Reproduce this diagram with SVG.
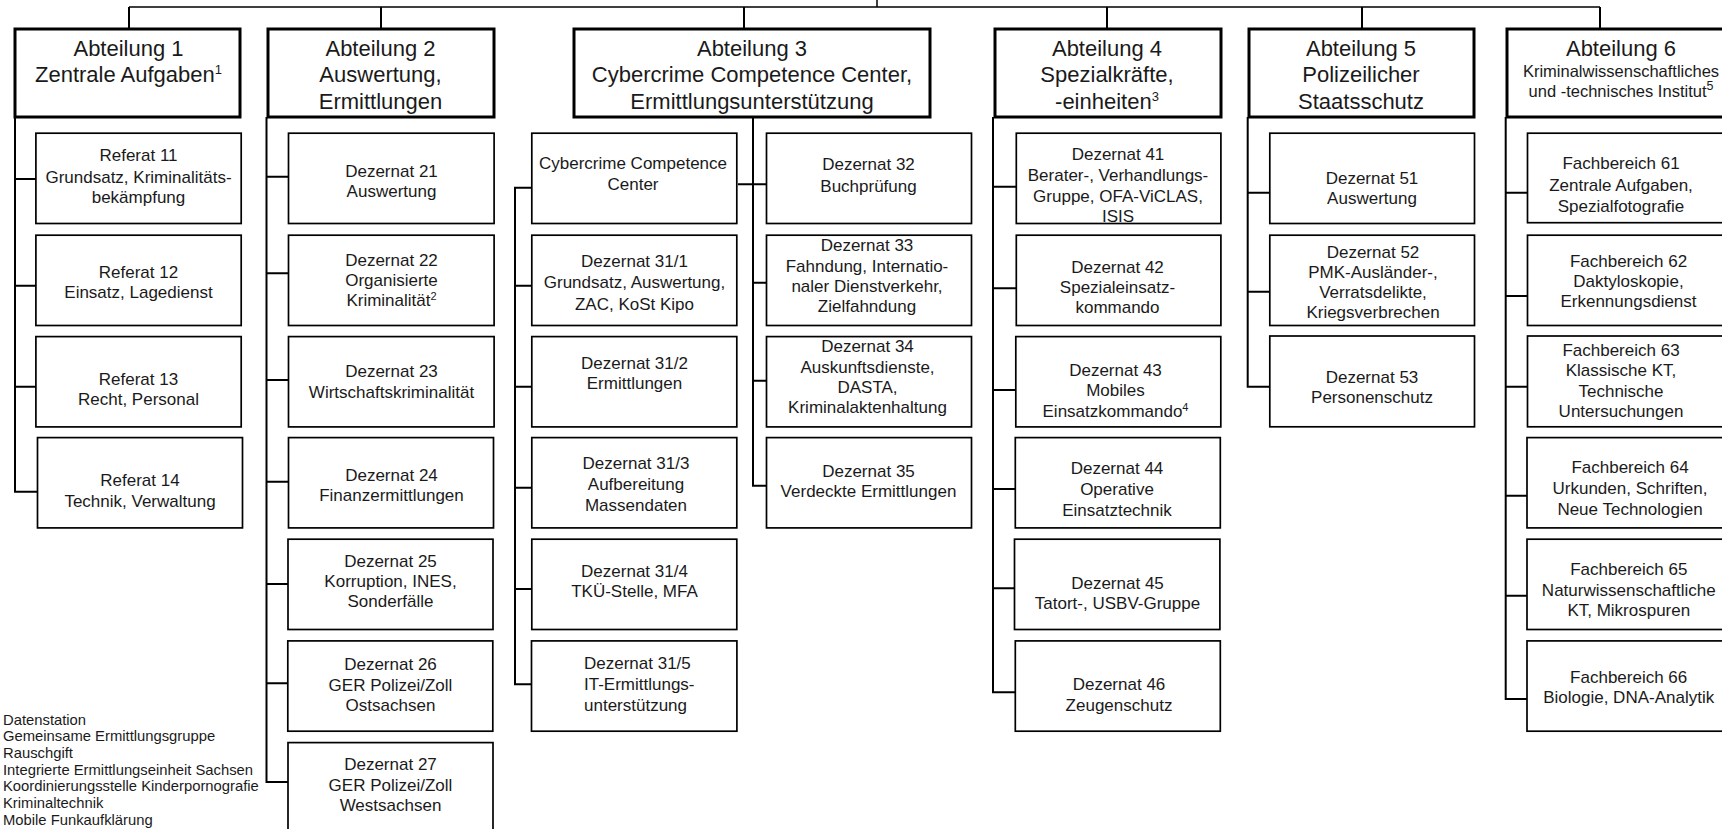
<svg xmlns="http://www.w3.org/2000/svg" width="1722" height="829" viewBox="0 0 1722 829">
<style>
.abt{fill:#fff;stroke:#000;stroke-width:3}
.box{fill:#fff;stroke:#000;stroke-width:1.7}
.t{font-family:"Liberation Sans",Arial,sans-serif;font-size:17px;fill:#1a1a1a;text-anchor:middle}
.h{font-size:22px}
.s{font-size:16.5px}
.fn{font-family:"Liberation Sans",Arial,sans-serif;font-size:14.8px;fill:#1a1a1a}
.c{fill:none;stroke:#000;stroke-width:2}
.bar{fill:none;stroke:#000;stroke-width:1.5}
</style>
<rect width="1722" height="829" fill="#fff"/>
<g id="connectors">
<path class="bar" d="M129 7H1600M877 0V7"/>
<path class="c" d="M129 7V28M381 7V28M744 7V28M1107 7V28M1362 7V28M1600 7V28"/>
<path class="c" d="M15 117V491.7H37.5M15 179H36M15 285.7H36M15 386.7H36"/>
<path class="c" d="M266.5 117V782H288.5M266.5 176.7H288.5M266.5 273.3H288.5M266.5 380H288.5M266.5 481.7H288.5M266.5 584H288.5M266.5 683.3H288.5"/>
<path class="c" d="M753 117V485.7H766.5M738 184.3H766.5M753 282.7H766.5M753 380.7H766.5"/>
<path class="c" d="M531.8 187.7H515V684.3H531.8M515 285.7H531.8M515 386.7H531.8M515 487.7H531.8M515 589H531.8"/>
<path class="c" d="M993 117V692.3H1016.3M993 186.7H1016.3M993 288.3H1016.3M993 390H1016.3M993 489H1016.3M993 588.3H1016.3"/>
<path class="c" d="M1247.7 117V386.7H1269.8M1247.7 192.7H1269.8M1247.7 291.7H1269.8"/>
<path class="c" d="M1505.7 117V699H1527.5M1505.7 192.7H1527.5M1505.7 296H1527.5M1505.7 386.7H1527.5M1505.7 495.7H1527.5M1505.7 595.7H1527.5"/>
</g>

<g id="abt1"><rect class="abt" x="15" y="29" width="225" height="88"/>
<text class="t h"><tspan x="128.5" y="55.5">Abteilung 1</tspan><tspan x="128.5" y="82">Zentrale Aufgaben<tspan font-size="13" dy="-8">1</tspan></tspan></text></g>
<g id="abt2"><rect class="abt" x="268" y="29" width="226" height="88"/>
<text class="t h"><tspan x="380.5" y="55.5">Abteilung 2</tspan><tspan x="380.5" y="82">Auswertung,</tspan><tspan x="380.5" y="108.5">Ermittlungen</tspan></text></g>
<g id="abt3"><rect class="abt" x="574" y="29" width="356" height="88"/>
<text class="t h"><tspan x="752" y="55.5">Abteilung 3</tspan><tspan x="752" y="82">Cybercrime Competence Center,</tspan><tspan x="752" y="108.5">Ermittlungsunterstützung</tspan></text></g>
<g id="abt4"><rect class="abt" x="995" y="29" width="226" height="88"/>
<text class="t h"><tspan x="1107" y="55.5">Abteilung 4</tspan><tspan x="1107" y="82">Spezialkräfte,</tspan><tspan x="1107" y="108.5">-einheiten<tspan font-size="13" dy="-8">3</tspan></tspan></text></g>
<g id="abt5"><rect class="abt" x="1249" y="29" width="225" height="88"/>
<text class="t h"><tspan x="1361" y="55.5">Abteilung 5</tspan><tspan x="1361" y="82">Polizeilicher</tspan><tspan x="1361" y="108.5">Staatsschutz</tspan></text></g>
<g id="abt6"><rect class="abt" x="1507" y="29" width="240" height="88"/>
<text class="t h"><tspan x="1621" y="55.5">Abteilung 6</tspan></text>
<text class="t s"><tspan x="1621" y="76.7">Kriminalwissenschaftliches</tspan><tspan x="1621" y="97.3">und -technisches Institut<tspan font-size="12.5" dy="-7">5</tspan></tspan></text></g>

<g id="ref11"><rect class="box" x="35.9" y="133.2" width="205.3" height="90.3"/>
<text class="t"><tspan x="138.5" y="161">Referat 11</tspan><tspan x="138.5" y="182.5">Grundsatz, Kriminalitäts-</tspan><tspan x="138.5" y="203">bekämpfung</tspan></text></g>
<g id="ref12"><rect class="box" x="35.9" y="235.2" width="205.3" height="90.3"/>
<text class="t"><tspan x="138.5" y="277.7">Referat 12</tspan><tspan x="138.5" y="298">Einsatz, Lagedienst</tspan></text></g>
<g id="ref13"><rect class="box" x="35.9" y="336.6" width="205.3" height="90.3"/>
<text class="t"><tspan x="138.5" y="385">Referat 13</tspan><tspan x="138.5" y="405.3">Recht, Personal</tspan></text></g>
<g id="ref14"><rect class="box" x="37.5" y="437.6" width="205" height="90.3"/>
<text class="t"><tspan x="140" y="486">Referat 14</tspan><tspan x="140" y="506.7">Technik, Verwaltung</tspan></text></g>

<g id="dez21"><rect class="box" x="288.5" y="133.2" width="205.6" height="90.3"/>
<text class="t"><tspan x="391.5" y="176.7">Dezernat 21</tspan><tspan x="391.5" y="197">Auswertung</tspan></text></g>
<g id="dez22"><rect class="box" x="288.5" y="235.2" width="205.6" height="90.3"/>
<text class="t"><tspan x="391.5" y="265.7">Dezernat 22</tspan><tspan x="391.5" y="286">Organisierte</tspan><tspan x="391.5" y="306.3">Kriminalität<tspan font-size="11" dy="-6">2</tspan></tspan></text></g>
<g id="dez23"><rect class="box" x="288.5" y="336.6" width="205.6" height="90.3"/>
<text class="t"><tspan x="391.5" y="377.3">Dezernat 23</tspan><tspan x="391.5" y="397.7">Wirtschaftskriminalität</tspan></text></g>
<g id="dez24"><rect class="box" x="288.5" y="437.6" width="205" height="90.3"/>
<text class="t"><tspan x="391.5" y="480.7">Dezernat 24</tspan><tspan x="391.5" y="501">Finanzermittlungen</tspan></text></g>
<g id="dez25"><rect class="box" x="288" y="539.2" width="205" height="90.3"/>
<text class="t"><tspan x="390.5" y="566.7">Dezernat 25</tspan><tspan x="390.5" y="586.7">Korruption, INES,</tspan><tspan x="390.5" y="606.7">Sonderfälle</tspan></text></g>
<g id="dez26"><rect class="box" x="287.8" y="640.9" width="205" height="90.3"/>
<text class="t"><tspan x="390.5" y="670">Dezernat 26</tspan><tspan x="390.5" y="690.7">GER Polizei/Zoll</tspan><tspan x="390.5" y="710.7">Ostsachsen</tspan></text></g>
<g id="dez27"><rect class="box" x="288" y="742.6" width="205" height="100"/>
<text class="t"><tspan x="390.5" y="770">Dezernat 27</tspan><tspan x="390.5" y="790.7">GER Polizei/Zoll</tspan><tspan x="390.5" y="810.7">Westsachsen</tspan></text></g>

<g id="ccc"><rect class="box" x="531.8" y="133.2" width="205" height="90.3"/>
<text class="t"><tspan x="633" y="169.3">Cybercrime Competence</tspan><tspan x="633" y="190">Center</tspan></text></g>
<g id="dez31-1"><rect class="box" x="531.8" y="235.2" width="205" height="90.3"/>
<text class="t"><tspan x="634.5" y="266.7">Dezernat 31/1</tspan><tspan x="634.5" y="288">Grundsatz, Auswertung,</tspan><tspan x="634.5" y="310">ZAC, KoSt Kipo</tspan></text></g>
<g id="dez31-2"><rect class="box" x="531.8" y="336.6" width="205" height="90.3"/>
<text class="t"><tspan x="634.5" y="369">Dezernat 31/2</tspan><tspan x="634.5" y="389">Ermittlungen</tspan></text></g>
<g id="dez31-3"><rect class="box" x="531.8" y="437.6" width="205" height="90.3"/>
<text class="t"><tspan x="636" y="469">Dezernat 31/3</tspan><tspan x="636" y="490">Aufbereitung</tspan><tspan x="636" y="510.7">Massendaten</tspan></text></g>
<g id="dez31-4"><rect class="box" x="531.8" y="539.2" width="205" height="90.3"/>
<text class="t"><tspan x="634.5" y="577.3">Dezernat 31/4</tspan><tspan x="634.5" y="597.3">TKÜ-Stelle, MFA</tspan></text></g>
<g id="dez31-5"><rect class="box" x="531.5" y="640.9" width="205.4" height="90.3"/>
<text class="t" style="text-anchor:start"><tspan x="584" y="669.3">Dezernat 31/5</tspan><tspan x="584" y="690">IT-Ermittlungs-</tspan><tspan x="584" y="710.7">unterstützung</tspan></text></g>

<g id="dez32"><rect class="box" x="766.5" y="133.2" width="205" height="90.3"/>
<text class="t"><tspan x="868.5" y="170">Dezernat 32</tspan><tspan x="868.5" y="191.7">Buchprüfung</tspan></text></g>
<g id="dez33"><rect class="box" x="766.5" y="235.2" width="205" height="90.3"/>
<text class="t"><tspan x="867" y="250.7">Dezernat 33</tspan><tspan x="867" y="271.7">Fahndung, Internatio-</tspan><tspan x="867" y="291.7">naler Dienstverkehr,</tspan><tspan x="867" y="311.7">Zielfahndung</tspan></text></g>
<g id="dez34"><rect class="box" x="766.5" y="336.6" width="205" height="90.3"/>
<text class="t"><tspan x="867.5" y="351.7">Dezernat 34</tspan><tspan x="867.5" y="372.7">Auskunftsdienste,</tspan><tspan x="867.5" y="393.3">DASTA,</tspan><tspan x="867.5" y="413.3">Kriminalaktenhaltung</tspan></text></g>
<g id="dez35"><rect class="box" x="766.5" y="437.6" width="205" height="90.3"/>
<text class="t"><tspan x="868.5" y="476.7">Dezernat 35</tspan><tspan x="868.5" y="496.7">Verdeckte Ermittlungen</tspan></text></g>

<g id="dez41"><rect class="box" x="1016.3" y="133.2" width="204.6" height="90.3"/>
<text class="t"><tspan x="1118" y="160">Dezernat 41</tspan><tspan x="1118" y="181">Berater-, Verhandlungs-</tspan><tspan x="1118" y="201.7">Gruppe, OFA-ViCLAS,</tspan><tspan x="1118" y="221.7">ISIS</tspan></text></g>
<g id="dez42"><rect class="box" x="1016.3" y="235.2" width="204.6" height="90.3"/>
<text class="t"><tspan x="1117.5" y="272.7">Dezernat 42</tspan><tspan x="1117.5" y="293.3">Spezialeinsatz-</tspan><tspan x="1117.5" y="313.3">kommando</tspan></text></g>
<g id="dez43"><rect class="box" x="1015.8" y="336.6" width="205" height="90.3"/>
<text class="t"><tspan x="1115.5" y="375.7">Dezernat 43</tspan><tspan x="1115.5" y="396">Mobiles</tspan><tspan x="1115.5" y="416.7">Einsatzkommando<tspan font-size="11" dy="-6">4</tspan></tspan></text></g>
<g id="dez44"><rect class="box" x="1015.3" y="437.6" width="205" height="90.3"/>
<text class="t"><tspan x="1117" y="474">Dezernat 44</tspan><tspan x="1117" y="495">Operative</tspan><tspan x="1117" y="515.7">Einsatztechnik</tspan></text></g>
<g id="dez45"><rect class="box" x="1014.5" y="539.2" width="205.4" height="90.3"/>
<text class="t"><tspan x="1117.5" y="589">Dezernat 45</tspan><tspan x="1117.5" y="609.3">Tatort-, USBV-Gruppe</tspan></text></g>
<g id="dez46"><rect class="box" x="1015.3" y="640.9" width="205" height="90.3"/>
<text class="t"><tspan x="1119" y="690">Dezernat 46</tspan><tspan x="1119" y="710.5">Zeugenschutz</tspan></text></g>

<g id="dez51"><rect class="box" x="1269.8" y="133.2" width="204.7" height="90.3"/>
<text class="t"><tspan x="1372" y="184.3">Dezernat 51</tspan><tspan x="1372" y="204.3">Auswertung</tspan></text></g>
<g id="dez52"><rect class="box" x="1269.8" y="235.2" width="204.7" height="90.3"/>
<text class="t"><tspan x="1373" y="258.3">Dezernat 52</tspan><tspan x="1373" y="278.3">PMK-Ausländer-,</tspan><tspan x="1373" y="298.3">Verratsdelikte,</tspan><tspan x="1373" y="318.3">Kriegsverbrechen</tspan></text></g>
<g id="dez53"><rect class="box" x="1269.8" y="336" width="204.7" height="90.8"/>
<text class="t"><tspan x="1372" y="383.3">Dezernat 53</tspan><tspan x="1372" y="403.3">Personenschutz</tspan></text></g>

<g id="fb61"><rect class="box" x="1527.5" y="133.2" width="210" height="89.5"/>
<text class="t"><tspan x="1621" y="169.3">Fachbereich 61</tspan><tspan x="1621" y="190.7">Zentrale Aufgaben,</tspan><tspan x="1621" y="211.7">Spezialfotografie</tspan></text></g>
<g id="fb62"><rect class="box" x="1527.5" y="235.2" width="210" height="90.3"/>
<text class="t"><tspan x="1628.5" y="266.7">Fachbereich 62</tspan><tspan x="1628.5" y="286.7">Daktyloskopie,</tspan><tspan x="1628.5" y="307.3">Erkennungsdienst</tspan></text></g>
<g id="fb63"><rect class="box" x="1527.5" y="336" width="210" height="90.8"/>
<text class="t"><tspan x="1621" y="356">Fachbereich 63</tspan><tspan x="1621" y="376">Klassische KT,</tspan><tspan x="1621" y="396.7">Technische</tspan><tspan x="1621" y="417.3">Untersuchungen</tspan></text></g>
<g id="fb64"><rect class="box" x="1527" y="437.6" width="210" height="90.3"/>
<text class="t"><tspan x="1630" y="473.3">Fachbereich 64</tspan><tspan x="1630" y="494">Urkunden, Schriften,</tspan><tspan x="1630" y="515">Neue Technologien</tspan></text></g>
<g id="fb65"><rect class="box" x="1527" y="539.2" width="210" height="90.3"/>
<text class="t"><tspan x="1628.8" y="575">Fachbereich 65</tspan><tspan x="1628.8" y="595.7">Naturwissenschaftliche</tspan><tspan x="1628.8" y="615.7">KT, Mikrospuren</tspan></text></g>
<g id="fb66"><rect class="box" x="1527" y="640.9" width="210" height="90.3"/>
<text class="t"><tspan x="1628.7" y="682.7">Fachbereich 66</tspan><tspan x="1628.7" y="703.3">Biologie, DNA-Analytik</tspan></text></g>

<g id="footnotes"><text class="fn"><tspan x="3" y="724.5">Datenstation</tspan><tspan x="3" y="741.2">Gemeinsame Ermittlungsgruppe</tspan><tspan x="3" y="757.9">Rauschgift</tspan><tspan x="3" y="774.6">Integrierte Ermittlungseinheit Sachsen</tspan><tspan x="3" y="791.3">Koordinierungsstelle Kinderpornografie</tspan><tspan x="3" y="808">Kriminaltechnik</tspan><tspan x="3" y="824.5">Mobile Funkaufklärung</tspan></text></g>
</svg>
